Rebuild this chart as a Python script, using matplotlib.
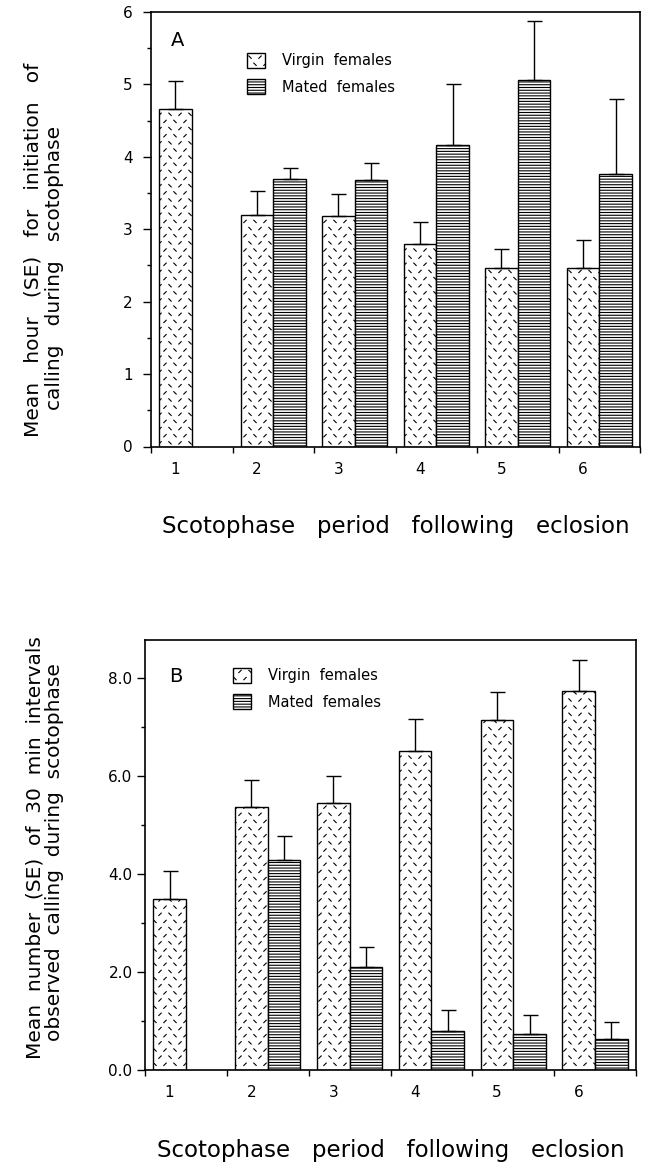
import numpy as np
import matplotlib
matplotlib.use("Agg")
import matplotlib.pyplot as plt
from matplotlib import hatch as mhatch
from matplotlib.path import Path
from matplotlib.patches import Patch

# ---------------- data ----------------
periods = [1, 2, 3, 4, 5, 6]
period_labels = ["1", "2", "3", "4", "5", "6"]

# Panel A: mean hour for initiation of calling
a_virgin = [4.66, 3.19, 3.18, 2.79, 2.47, 2.46]
a_virgin_se = [0.39, 0.34, 0.31, 0.31, 0.26, 0.39]
a_mated = [None, 3.69, 3.68, 4.17, 5.06, 3.76]
a_mated_se = [None, 0.15, 0.24, 0.84, 0.81, 1.04]

# Panel B: mean number of 30 min intervals calling
b_virgin = [3.50, 5.37, 5.46, 6.52, 7.15, 7.74]
b_virgin_se = [0.56, 0.55, 0.55, 0.64, 0.57, 0.64]
b_mated = [None, 4.28, 2.10, 0.80, 0.73, 0.63]
b_mated_se = [None, 0.50, 0.42, 0.42, 0.40, 0.36]

legend_labels = ["Virgin  females", "Mated  females"]
xlabel_text = "Scotophase   period   following   eclosion"
a_ylabel = ["Mean   hour   (SE)   for   initiation   of", "calling   during   scotophase"]
b_ylabel = ["Mean  number  (SE)  of  30  min  intervals", "observed  calling  during  scotophase"]


# ---------------- custom dash hatch (replaces '*') ----------------
class DashHatch(mhatch.HatchPatternBase):
    def __init__(self, hatch, density):
        self.segs = []
        if hatch.count('*'):
            ncol, nrow = 10, 14
            d = 0.012
            for j in range(-1, nrow + 2):
                for i in range(-1, ncol + 2):
                    x = (i + 0.5 * (j % 2)) / ncol
                    y = j / nrow
                    if i % 2 == 0:
                        self.segs.append(((x - d, y - d), (x + d, y + d)))
                    else:
                        self.segs.append(((x - d, y + d), (x + d, y - d)))
        self.num_vertices = 2 * len(self.segs)

    def set_vertices_and_codes(self, vertices, codes):
        for k, (p0, p1) in enumerate(self.segs):
            vertices[2 * k] = p0
            vertices[2 * k + 1] = p1
            codes[2 * k] = Path.MOVETO
            codes[2 * k + 1] = Path.LINETO


mhatch._hatch_types = [c for c in mhatch._hatch_types if c is not mhatch.Stars] + [DashHatch]

plt.rcParams['font.family'] = ['DejaVu Sans']
plt.rcParams['hatch.linewidth'] = 0.8
plt.rcParams['hatch.color'] = 'black'

W, H = 648, 1167
fig = plt.figure(figsize=(W / 100, H / 100), dpi=100)


def fx(x):
    return x / W


def fy(y):
    return 1 - y / H


VIRGIN_HATCH = '*'
MATED_HATCH = '------'


def panel(rect_px, virgin, vse, mated, mse, ylim, major, minor, fmt, letter, ylabels,
          leg_xy, ylabel_pos, tick_pad, xlabel_base):
    l, t, r, b = rect_px
    ax = fig.add_axes([fx(l), fy(b), fx(r) - fx(l), fy(t) - fy(b)])
    x = np.array(periods, dtype=float)
    w = 0.4
    ax.bar(x - w / 2, virgin, width=w, facecolor='white', edgecolor='black',
           hatch=VIRGIN_HATCH, linewidth=1.0, zorder=2)
    ax.errorbar(x - w / 2, virgin, yerr=[np.zeros(len(vse)), vse], fmt='none',
                ecolor='black', elinewidth=1.0, capsize=5.4, capthick=1.0, zorder=3)
    mx = [p + w / 2 for p, v in zip(periods, mated) if v is not None]
    mv = [v for v in mated if v is not None]
    ms = [s for s in mse if s is not None]
    ax.bar(mx, mv, width=w, facecolor='white', edgecolor='black',
           hatch=MATED_HATCH, linewidth=1.0, zorder=2)
    ax.errorbar(mx, mv, yerr=[np.zeros(len(ms)), ms], fmt='none',
                ecolor='black', elinewidth=1.0, capsize=5.4, capthick=1.0, zorder=3)
    ax.set_xlim(0.5, 6.5)
    ax.set_ylim(*ylim)
    ax.set_yticks(major)
    ax.set_yticklabels([fmt.format(v) for v in major], fontsize=11)
    ax.set_yticks(minor, minor=True)
    ax.set_xticks(x - w / 2)
    ax.set_xticklabels(period_labels, fontsize=11)
    ax.set_xticks(np.arange(0.5, 7.0, 1.0), minor=True)
    ax.tick_params(axis='x', which='major', length=0, pad=11)
    ax.tick_params(axis='x', which='minor', length=4, width=1.0, direction='out')
    ax.tick_params(axis='y', which='major', length=6, width=1.0, direction='out', pad=tick_pad)
    ax.tick_params(axis='y', which='minor', length=3, width=1.0, direction='out')
    for s in ax.spines.values():
        s.set_linewidth(1.2)
    fig.text(fx((l + r) / 2), fy(xlabel_base), xlabel_text, fontsize=16.5,
             ha='center', va='baseline')
    fig.text(fx(letter[1]), fy(letter[2]), letter[0], fontsize=14, ha='center', va='center')
    for txt, (px, py) in zip(ylabels, ylabel_pos):
        fig.text(fx(px), fy(py), txt, fontsize=14.5, rotation=90, ha='center', va='center')
    handles = [Patch(facecolor='white', edgecolor='black', hatch=VIRGIN_HATCH, linewidth=1.0),
               Patch(facecolor='white', edgecolor='black', hatch=MATED_HATCH, linewidth=1.0)]
    lx, ly = leg_xy
    ax.legend(handles, legend_labels, loc='upper left',
              bbox_to_anchor=((lx - l) / (r - l), (b - ly) / (b - t)),
              frameon=False, fontsize=10.5, handlelength=1.2, handleheight=1.2,
              handletextpad=1.2, labelspacing=0.75, borderpad=0, borderaxespad=0)
    return ax


panel((151, 12, 640, 446.5), a_virgin, a_virgin_se, a_mated, a_mated_se,
      (0, 6), [0, 1, 2, 3, 4, 5, 6], [0.5, 1.5, 2.5, 3.5, 4.5, 5.5], "{:d}",
      ("A", 178, 40), a_ylabel, (247, 53), [(33, 250), (55, 268)], 7, 533)

panel((145, 640, 636, 1070), b_virgin, b_virgin_se, b_mated, b_mated_se,
      (0, 8.78), [0, 2, 4, 6, 8], [1, 3, 5, 7], "{:.1f}",
      ("B", 176, 676), b_ylabel, (233, 668), [(35, 848), (55, 852)], 3, 1157)

fig.savefig("out.png", dpi=100)
